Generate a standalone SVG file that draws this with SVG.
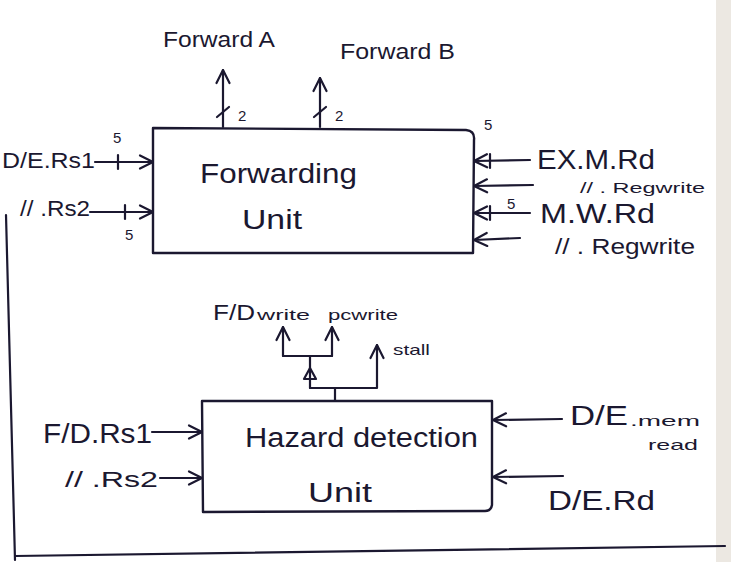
<svg xmlns="http://www.w3.org/2000/svg" width="731" height="562" viewBox="0 0 731 562">
<style>
.ln{stroke:#1b1830;stroke-width:2.2;fill:none;stroke-linecap:round;stroke-linejoin:round}
.bx{stroke:#1b1830;stroke-width:2.4;fill:none;stroke-linejoin:round}
.t{font-family:"Liberation Sans",Arial,sans-serif;fill:#1b1830}
.big{font-size:27px}
.mid{font-size:22px}
.sm{font-size:15px}
</style>
<defs>
<marker id="ah" viewBox="0 0 16 16" refX="15" refY="8" markerWidth="16" markerHeight="16" markerUnits="userSpaceOnUse" orient="auto">
<path d="M2,1.5 L15,8 L2,14.5" fill="none" stroke="#1b1830" stroke-width="2.2" stroke-linecap="round" stroke-linejoin="round"/>
</marker>
</defs>
<rect x="0" y="0" width="731" height="562" fill="#ffffff"/>
<rect x="716" y="0" width="15" height="562" fill="#ece8e2"/>
<g id="page">
<path class="ln" d="M6,215 L15,560"/>
<path class="ln" d="M15,556 L725,546"/>
</g>
<g id="forwarding-unit">
<path class="bx" d="M153,128 L466,130 Q475,131 474,140 L473,253 L153,253 Z"/>
<text class="t big" x="200" y="183" textLength="157" lengthAdjust="spacingAndGlyphs">Forwarding</text>
<text class="t big" x="242" y="229" textLength="60" lengthAdjust="spacingAndGlyphs">Unit</text>
</g>
<g id="hazard-detection-unit">
<path class="bx" d="M202,401 L492,401 L492,505 Q491,511 485,511 L203,512 Z"/>
<text class="t big" x="245" y="447" textLength="233" lengthAdjust="spacingAndGlyphs">Hazard detection</text>
<text class="t big" x="308" y="502" textLength="64" lengthAdjust="spacingAndGlyphs">Unit</text>
</g>
<g id="labels">
<text class="t mid" x="163" y="47" textLength="112" lengthAdjust="spacingAndGlyphs">Forward A</text>
<text class="t mid" x="340" y="59" textLength="115" lengthAdjust="spacingAndGlyphs">Forward B</text>
<text class="t sm" x="238" y="121">2</text>
<text class="t sm" x="335" y="121">2</text>
<text class="t mid" x="2" y="168" textLength="93" lengthAdjust="spacingAndGlyphs">D/E.Rs1</text>
<text class="t sm" x="113" y="143">5</text>
<text class="t mid" x="20" y="216" textLength="70" lengthAdjust="spacingAndGlyphs">// .Rs2</text>
<text class="t sm" x="125" y="240">5</text>
<text class="t sm" x="484" y="130">5</text>
<text class="t big" x="537" y="169" textLength="118" lengthAdjust="spacingAndGlyphs">EX.M.Rd</text>
<text class="t sm" x="580" y="193" textLength="125" lengthAdjust="spacingAndGlyphs">// . Regwrite</text>
<text class="t sm" x="507" y="209">5</text>
<text class="t big" x="540" y="223" textLength="115" lengthAdjust="spacingAndGlyphs">M.W.Rd</text>
<text class="t mid" x="555" y="254" textLength="140" lengthAdjust="spacingAndGlyphs">// . Regwrite</text>
<text class="t mid" x="213" y="320" textLength="42" lengthAdjust="spacingAndGlyphs">F/D</text>
<text class="t sm" x="257" y="320" textLength="53" lengthAdjust="spacingAndGlyphs">write</text>
<text class="t sm" x="328" y="320" textLength="70" lengthAdjust="spacingAndGlyphs">pcwrite</text>
<text class="t sm" x="393" y="355" textLength="37" lengthAdjust="spacingAndGlyphs">stall</text>
<text class="t big" x="43" y="443" textLength="109" lengthAdjust="spacingAndGlyphs">F/D.Rs1</text>
<text class="t mid" x="65" y="487" textLength="93" lengthAdjust="spacingAndGlyphs">// .Rs2</text>
<text class="t big" x="570" y="425" textLength="58" lengthAdjust="spacingAndGlyphs">D/E</text>
<text class="t sm" x="630" y="426" textLength="70" lengthAdjust="spacingAndGlyphs">.mem</text>
<text class="t sm" x="648" y="450" textLength="50" lengthAdjust="spacingAndGlyphs">read</text>
<text class="t big" x="548" y="510" textLength="107" lengthAdjust="spacingAndGlyphs">D/E.Rd</text>
</g>
<g id="connectors">
<path class="ln" d="M223,127 L223,70" marker-end="url(#ah)"/>
<path class="ln" d="M217,117 L229,107"/>
<path class="ln" d="M320,127 L320,78" marker-end="url(#ah)"/>
<path class="ln" d="M314,117 L326,107"/>
<path class="ln" d="M95,162 L153,162" marker-end="url(#ah)"/>
<path class="ln" d="M118,155 L118,169"/>
<path class="ln" d="M90,212 L153,212" marker-end="url(#ah)"/>
<path class="ln" d="M125,205 L125,219"/>
<path class="ln" d="M530,160 L474,161" marker-end="url(#ah)"/>
<path class="ln" d="M490,154 L490,168"/>
<path class="ln" d="M533,185 L474,186" marker-end="url(#ah)"/>
<path class="ln" d="M530,213 L474,213" marker-end="url(#ah)"/>
<path class="ln" d="M490,206 L490,220"/>
<path class="ln" d="M520,238 L474,240" marker-end="url(#ah)"/>
<path class="ln" d="M152,432 L202,432" marker-end="url(#ah)"/>
<path class="ln" d="M160,478 L202,478" marker-end="url(#ah)"/>
<path class="ln" d="M562,419 L493,420" marker-end="url(#ah)"/>
<path class="ln" d="M563,476 L493,477" marker-end="url(#ah)"/>
<path class="ln" d="M335,401 L335,388"/>
<path class="ln" d="M310,388 L377,388 L377,345" marker-end="url(#ah)"/>
<path class="ln" d="M310,388 L310,356"/>
<path class="ln" d="M304,379 L310,368 L316,379 Z"/>
<path class="ln" d="M283,356 L332,356"/>
<path class="ln" d="M283,356 L283,327" marker-end="url(#ah)"/>
<path class="ln" d="M332,356 L332,327" marker-end="url(#ah)"/>
</g>
</svg>
